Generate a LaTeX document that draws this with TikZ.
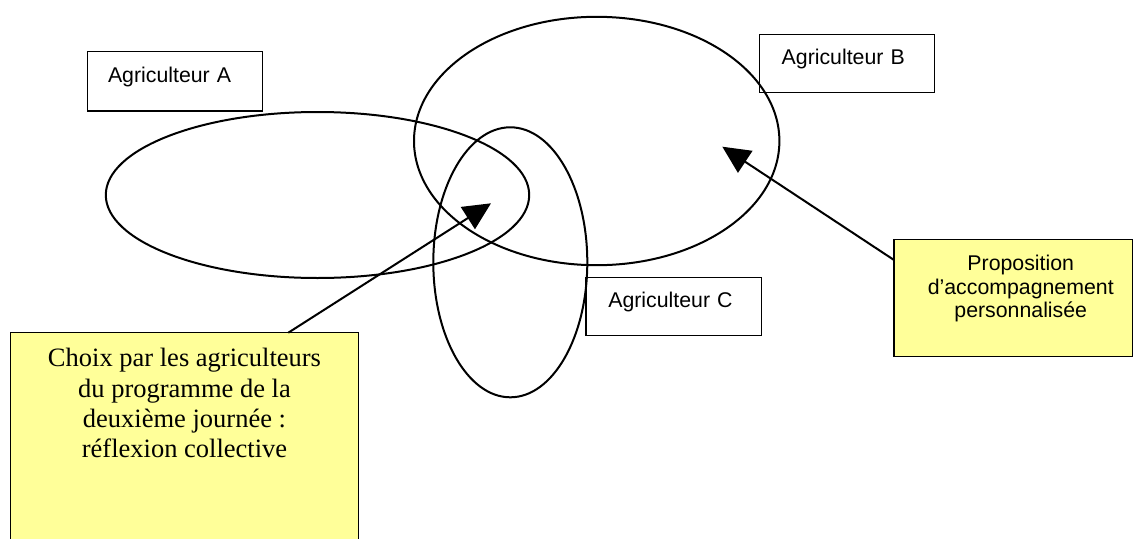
\documentclass[tikz,border=0pt]{standalone}
\usepackage{fontspec}
\setmainfont{Liberation Serif}
\newfontfamily\arialf{Liberation Sans}
\usetikzlibrary{arrows.meta,calc}
\definecolor{notey}{RGB}{255,255,153}
\begin{document}
\begin{tikzpicture}[x=1pt,y=-1pt,
  agri/.style={draw, line width=1.4pt, outer sep=0pt, anchor=north west,
    font=\arialf\fontsize{21.3}{23.3}\selectfont, align=left, inner ysep=0pt},
  note/.style={draw, line width=1.4pt, outer sep=0pt, fill=notey, anchor=north west, inner sep=0pt},
  oval/.style={line width=2pt},
  arr/.style={line width=2pt, -{Triangle[length=27.5pt,width=26pt]}}]
\useasboundingbox (0,0) rectangle (1134,538);
\clip (0,0) rectangle (1134,538);
\setlength\tabcolsep{0pt}
% boxes
\node[agri, inner xsep=20.7pt, text width=134pt, text height=31pt, text depth=28.3pt] (agA) at (87.3,51.7) {Agriculteur A};
\node[agri, inner xsep=22.4pt, text width=130.2pt, text height=29.6pt, text depth=28.4pt] (agB) at (759.3,34.7) {Agriculteur B};
\node[agri, inner xsep=22.3pt, text width=131.1pt, text height=30pt, text depth=28.4pt] (agC) at (586,277.3) {Agriculteur C};
% ellipses
\draw[oval] (317.5,195) ellipse [x radius=211.7pt, y radius=83pt];
\draw[oval] (596.7,141) ellipse [x radius=182.7pt, y radius=124.2pt];
\draw[oval] (510.3,262.3) ellipse [x radius=77pt, y radius=135pt];
% notes
\node[note, minimum width=347.6pt, text height=34pt, text depth=193.3pt,
  font=\fontsize{26.5}{30.3}\selectfont] (noteL) at (10.7,332.7)
  {\begin{tabular}[t]{@{}c@{}}Choix par les agriculteurs\\du programme de la\\deuxième journée :\\réflexion collective\end{tabular}};
\node[note, minimum width=238.5pt, text height=31.4pt, text depth=86pt,
  font=\arialf\fontsize{21.3}{23.3}\selectfont] (noteR) at (894,239.3)
  {\hspace*{15pt}\begin{tabular}[t]{@{}c@{}}Proposition\\d’accompagnement\\personnalisée\end{tabular}};
% arrows
\coordinate (tipA) at (491,203.3);
\coordinate (tipB) at (722.3,146.7);
\draw[arr] ($(noteL.north west)+(277.6,0)$) -- (tipA);
\draw[arr] ($(noteR.north west)+(0,20.7)$) -- (tipB);
\end{tikzpicture}
\end{document}
